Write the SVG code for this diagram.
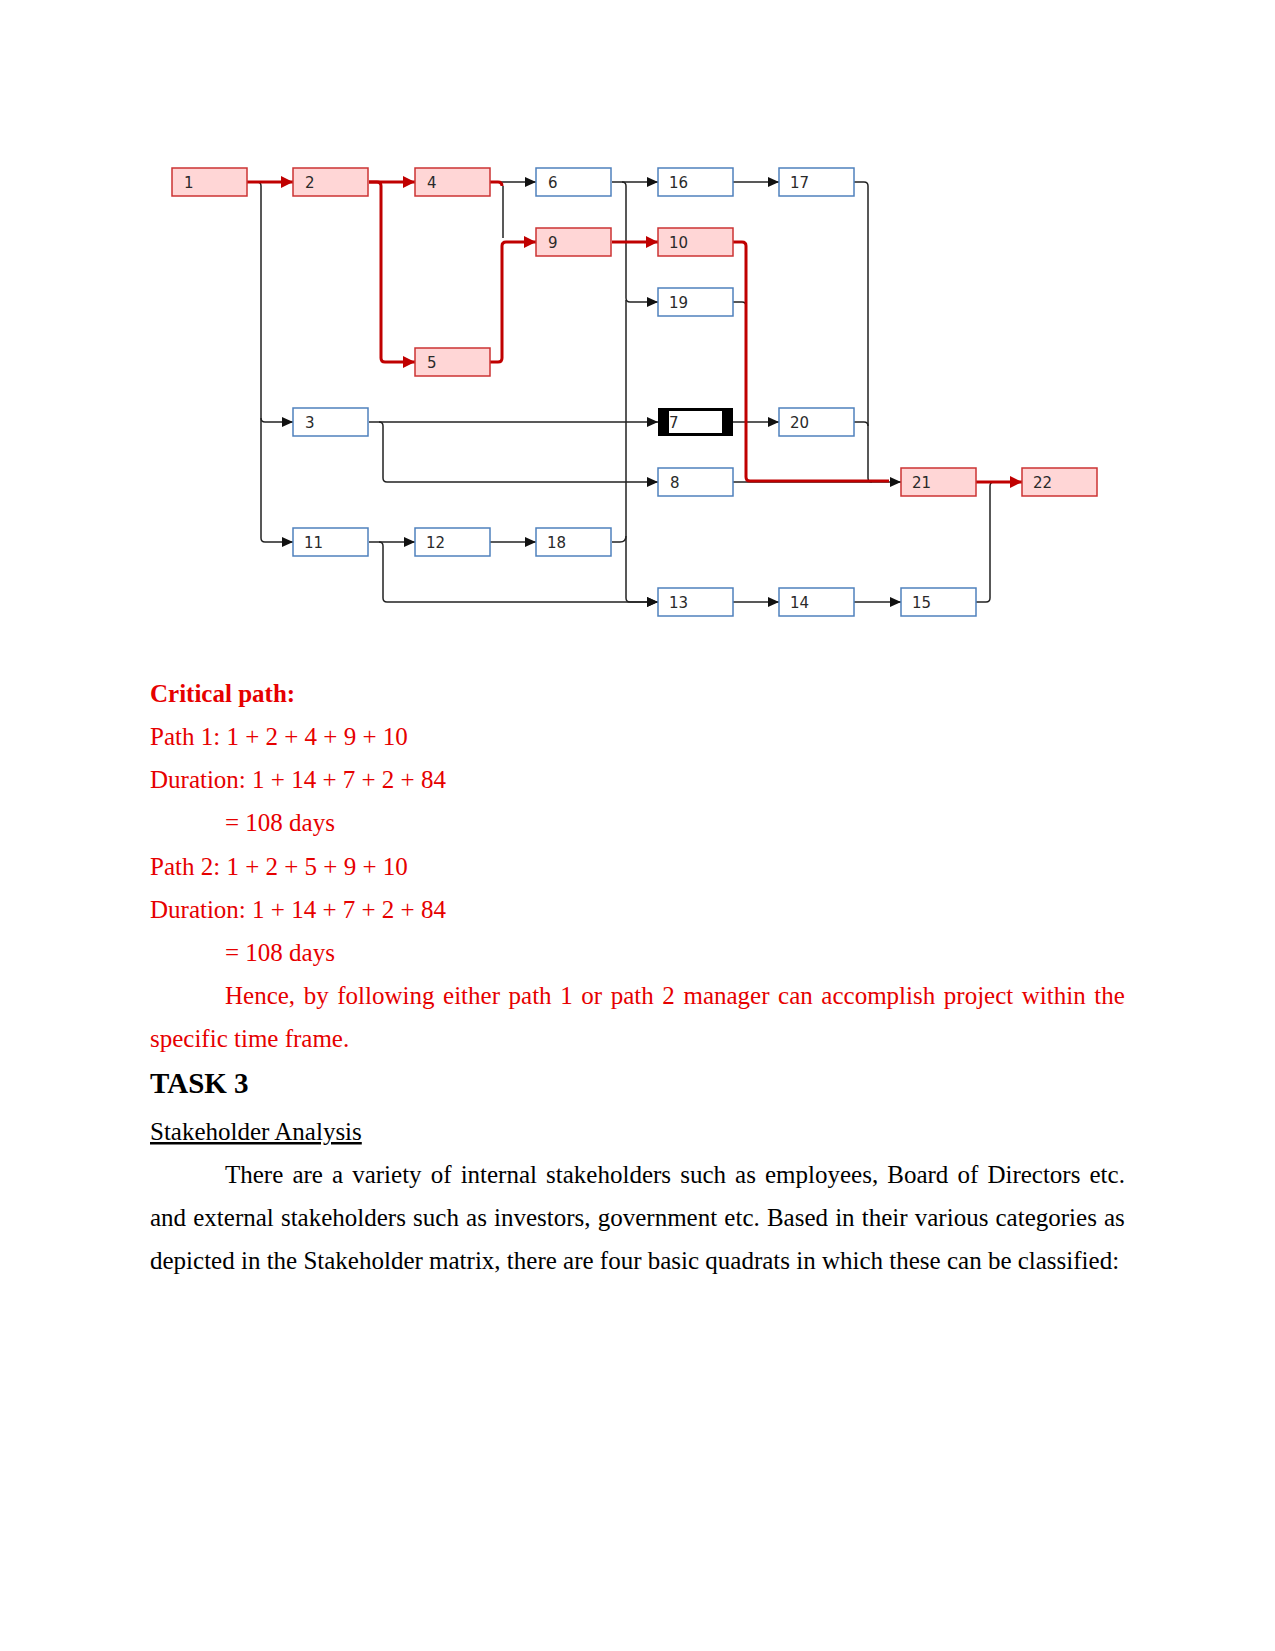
<svg xmlns="http://www.w3.org/2000/svg" width="1275" height="1651" viewBox="0 0 1275 1651">
<style>
.box{stroke-width:1.5}
.crit{fill:#ffd6d6;stroke:#cc3333}
.norm{fill:#ffffff;stroke:#4f81bd}
.lbl{font-family:"DejaVu Sans",Verdana,sans-serif;font-size:15px;fill:#2a2a2a}
.bl{fill:none;stroke:#222;stroke-width:1.5}
.rd{fill:none;stroke:#c00000;stroke-width:3}
.t{font-family:"Liberation Serif","Times New Roman",serif;font-size:25px}
.h{font-family:"Liberation Serif","Times New Roman",serif;font-size:29px;font-weight:bold}
.red{fill:#e60000}
.blk{fill:#000}
</style>
<defs>
<marker id="ab" markerUnits="userSpaceOnUse" markerWidth="12" markerHeight="10" refX="11" refY="5" orient="auto"><path d="M0,0 L11,5 L0,10 z" fill="#111"/></marker>
<marker id="ar" markerUnits="userSpaceOnUse" markerWidth="13" markerHeight="12" refX="12" refY="6" orient="auto"><path d="M0,0 L12,6 L0,12 z" fill="#c00000"/></marker>
</defs>
<rect width="1275" height="1651" fill="#fff"/>

<g id="connectors">
<path class="bl" d="M247,182 H257 Q261,182 261,186 V418 Q261,422 265,422 H293" marker-end="url(#ab)"/>
<path class="bl" d="M261,418 V538 Q261,542 265,542 H293" marker-end="url(#ab)"/>
<path class="bl" d="M499,182 H536" marker-end="url(#ab)"/>
<path class="bl" d="M503,186 V238"/>
<path class="bl" d="M612,182 H658" marker-end="url(#ab)"/>
<path class="bl" d="M622,182 Q626,182 626,186 V298 Q626,302 630,302 H658" marker-end="url(#ab)"/>
<path class="bl" d="M626,300 V598 Q626,602 630,602 H658" marker-end="url(#ab)"/>
<path class="bl" d="M612,542 H620 Q626,542 626,536"/>
<path class="bl" d="M733,182 H779" marker-end="url(#ab)"/>
<path class="bl" d="M854,182 H864 Q868,182 868,186 V478 Q868,482 872,482"/>
<path class="bl" d="M854,422 H864 Q868,422 868,426"/>
<path class="bl" d="M733,302 H742 Q746,302 746,306 V478"/>
<path class="bl" d="M733,422 H779" marker-end="url(#ab)"/>
<path class="bl" d="M733,482 H901" marker-end="url(#ab)"/>
<path class="bl" d="M369,422 H658" marker-end="url(#ab)"/>
<path class="bl" d="M379,422 Q383,422 383,426 V478 Q383,482 387,482 H658" marker-end="url(#ab)"/>
<path class="bl" d="M369,542 H415" marker-end="url(#ab)"/>
<path class="bl" d="M379,542 Q383,542 383,546 V598 Q383,602 387,602 H658" marker-end="url(#ab)"/>
<path class="bl" d="M490,542 H536" marker-end="url(#ab)"/>
<path class="bl" d="M733,602 H779" marker-end="url(#ab)"/>
<path class="bl" d="M854,602 H901" marker-end="url(#ab)"/>
<path class="bl" d="M976,602 H986 Q990,602 990,598 V486 Q990,482 994,482"/>
<path class="rd" d="M247,182 H293" marker-end="url(#ar)"/>
<path class="rd" d="M369,182 H415" marker-end="url(#ar)"/>
<path class="rd" d="M369,182 H377 Q381,182 381,186 V358 Q381,362 385,362 H415" marker-end="url(#ar)"/>
<path class="rd" d="M490,182 H498 Q502,182 502,186"/>
<path class="rd" d="M490,362 H498 Q502,362 502,358 V246 Q502,242 506,242 H536" marker-end="url(#ar)"/>
<path class="rd" d="M612,242 H658" marker-end="url(#ar)"/>
<path class="rd" d="M733,242 H742 Q746,242 746,246 V477 Q746,481 750,481 H889"/>
<path class="rd" d="M976,482 H1022" marker-end="url(#ar)"/>
</g>

<g id="n1"><rect class="box crit" x="172" y="168" width="75" height="28"/><text class="lbl" x="184" y="188">1</text></g>
<g id="n2"><rect class="box crit" x="293" y="168" width="75" height="28"/><text class="lbl" x="305" y="188">2</text></g>
<g id="n4"><rect class="box crit" x="415" y="168" width="75" height="28"/><text class="lbl" x="427" y="188">4</text></g>
<g id="n6"><rect class="box norm" x="536" y="168" width="75" height="28"/><text class="lbl" x="548" y="188">6</text></g>
<g id="n16"><rect class="box norm" x="658" y="168" width="75" height="28"/><text class="lbl" x="669" y="188">16</text></g>
<g id="n17"><rect class="box norm" x="779" y="168" width="75" height="28"/><text class="lbl" x="790" y="188">17</text></g>
<g id="n9"><rect class="box crit" x="536" y="228" width="75" height="28"/><text class="lbl" x="548" y="248">9</text></g>
<g id="n10"><rect class="box crit" x="658" y="228" width="75" height="28"/><text class="lbl" x="669" y="248">10</text></g>
<g id="n19"><rect class="box norm" x="658" y="288" width="75" height="28"/><text class="lbl" x="669" y="308">19</text></g>
<g id="n5"><rect class="box crit" x="415" y="348" width="75" height="28"/><text class="lbl" x="427" y="368">5</text></g>
<g id="n3"><rect class="box norm" x="293" y="408" width="75" height="28"/><text class="lbl" x="305" y="428">3</text></g>
<g id="n7"><rect x="658" y="408" width="75" height="28" fill="#000"/><rect x="669" y="411" width="53" height="22" fill="#fff"/><text class="lbl" x="669" y="428">7</text></g>
<g id="n20"><rect class="box norm" x="779" y="408" width="75" height="28"/><text class="lbl" x="790" y="428">20</text></g>
<g id="n8"><rect class="box norm" x="658" y="468" width="75" height="28"/><text class="lbl" x="670" y="488">8</text></g>
<g id="n21"><rect class="box crit" x="901" y="468" width="75" height="28"/><text class="lbl" x="912" y="488">21</text></g>
<g id="n22"><rect class="box crit" x="1022" y="468" width="75" height="28"/><text class="lbl" x="1033" y="488">22</text></g>
<g id="n11"><rect class="box norm" x="293" y="528" width="75" height="28"/><text class="lbl" x="304" y="548">11</text></g>
<g id="n12"><rect class="box norm" x="415" y="528" width="75" height="28"/><text class="lbl" x="426" y="548">12</text></g>
<g id="n18"><rect class="box norm" x="536" y="528" width="75" height="28"/><text class="lbl" x="547" y="548">18</text></g>
<g id="n13"><rect class="box norm" x="658" y="588" width="75" height="28"/><text class="lbl" x="669" y="608">13</text></g>
<g id="n14"><rect class="box norm" x="779" y="588" width="75" height="28"/><text class="lbl" x="790" y="608">14</text></g>
<g id="n15"><rect class="box norm" x="901" y="588" width="75" height="28"/><text class="lbl" x="912" y="608">15</text></g>

<g id="text">
<text class="t red" x="150" y="702" font-weight="bold">Critical path:</text>
<text class="t red" x="150" y="745">Path 1: 1 + 2 + 4 + 9 + 10</text>
<text class="t red" x="150" y="788">Duration: 1 + 14 + 7 + 2 + 84</text>
<text class="t red" x="225" y="831">= 108 days</text>
<text class="t red" x="150" y="875">Path 2: 1 + 2 + 5 + 9 + 10</text>
<text class="t red" x="150" y="918">Duration: 1 + 14 + 7 + 2 + 84</text>
<text class="t red" x="225" y="961">= 108 days</text>
<text class="t red" x="225" y="1004" word-spacing="2.34">Hence, by following either path 1 or path 2 manager can accomplish project within the</text>
<text class="t red" x="150" y="1047">specific time frame.</text>
<text class="h blk" x="150" y="1093">TASK 3</text>
<text class="t blk" x="150" y="1140" text-decoration="underline">Stakeholder Analysis</text>
<text class="t blk" x="225" y="1183" word-spacing="2.85">There are a variety of internal stakeholders such as employees, Board of Directors etc.</text>
<text class="t blk" x="150" y="1226" word-spacing="0.92">and external stakeholders such as investors, government etc. Based in their various categories as</text>
<text class="t blk" x="150" y="1269">depicted in the Stakeholder matrix, there are four basic quadrats in which these can be classified:</text>
</g>
</svg>
